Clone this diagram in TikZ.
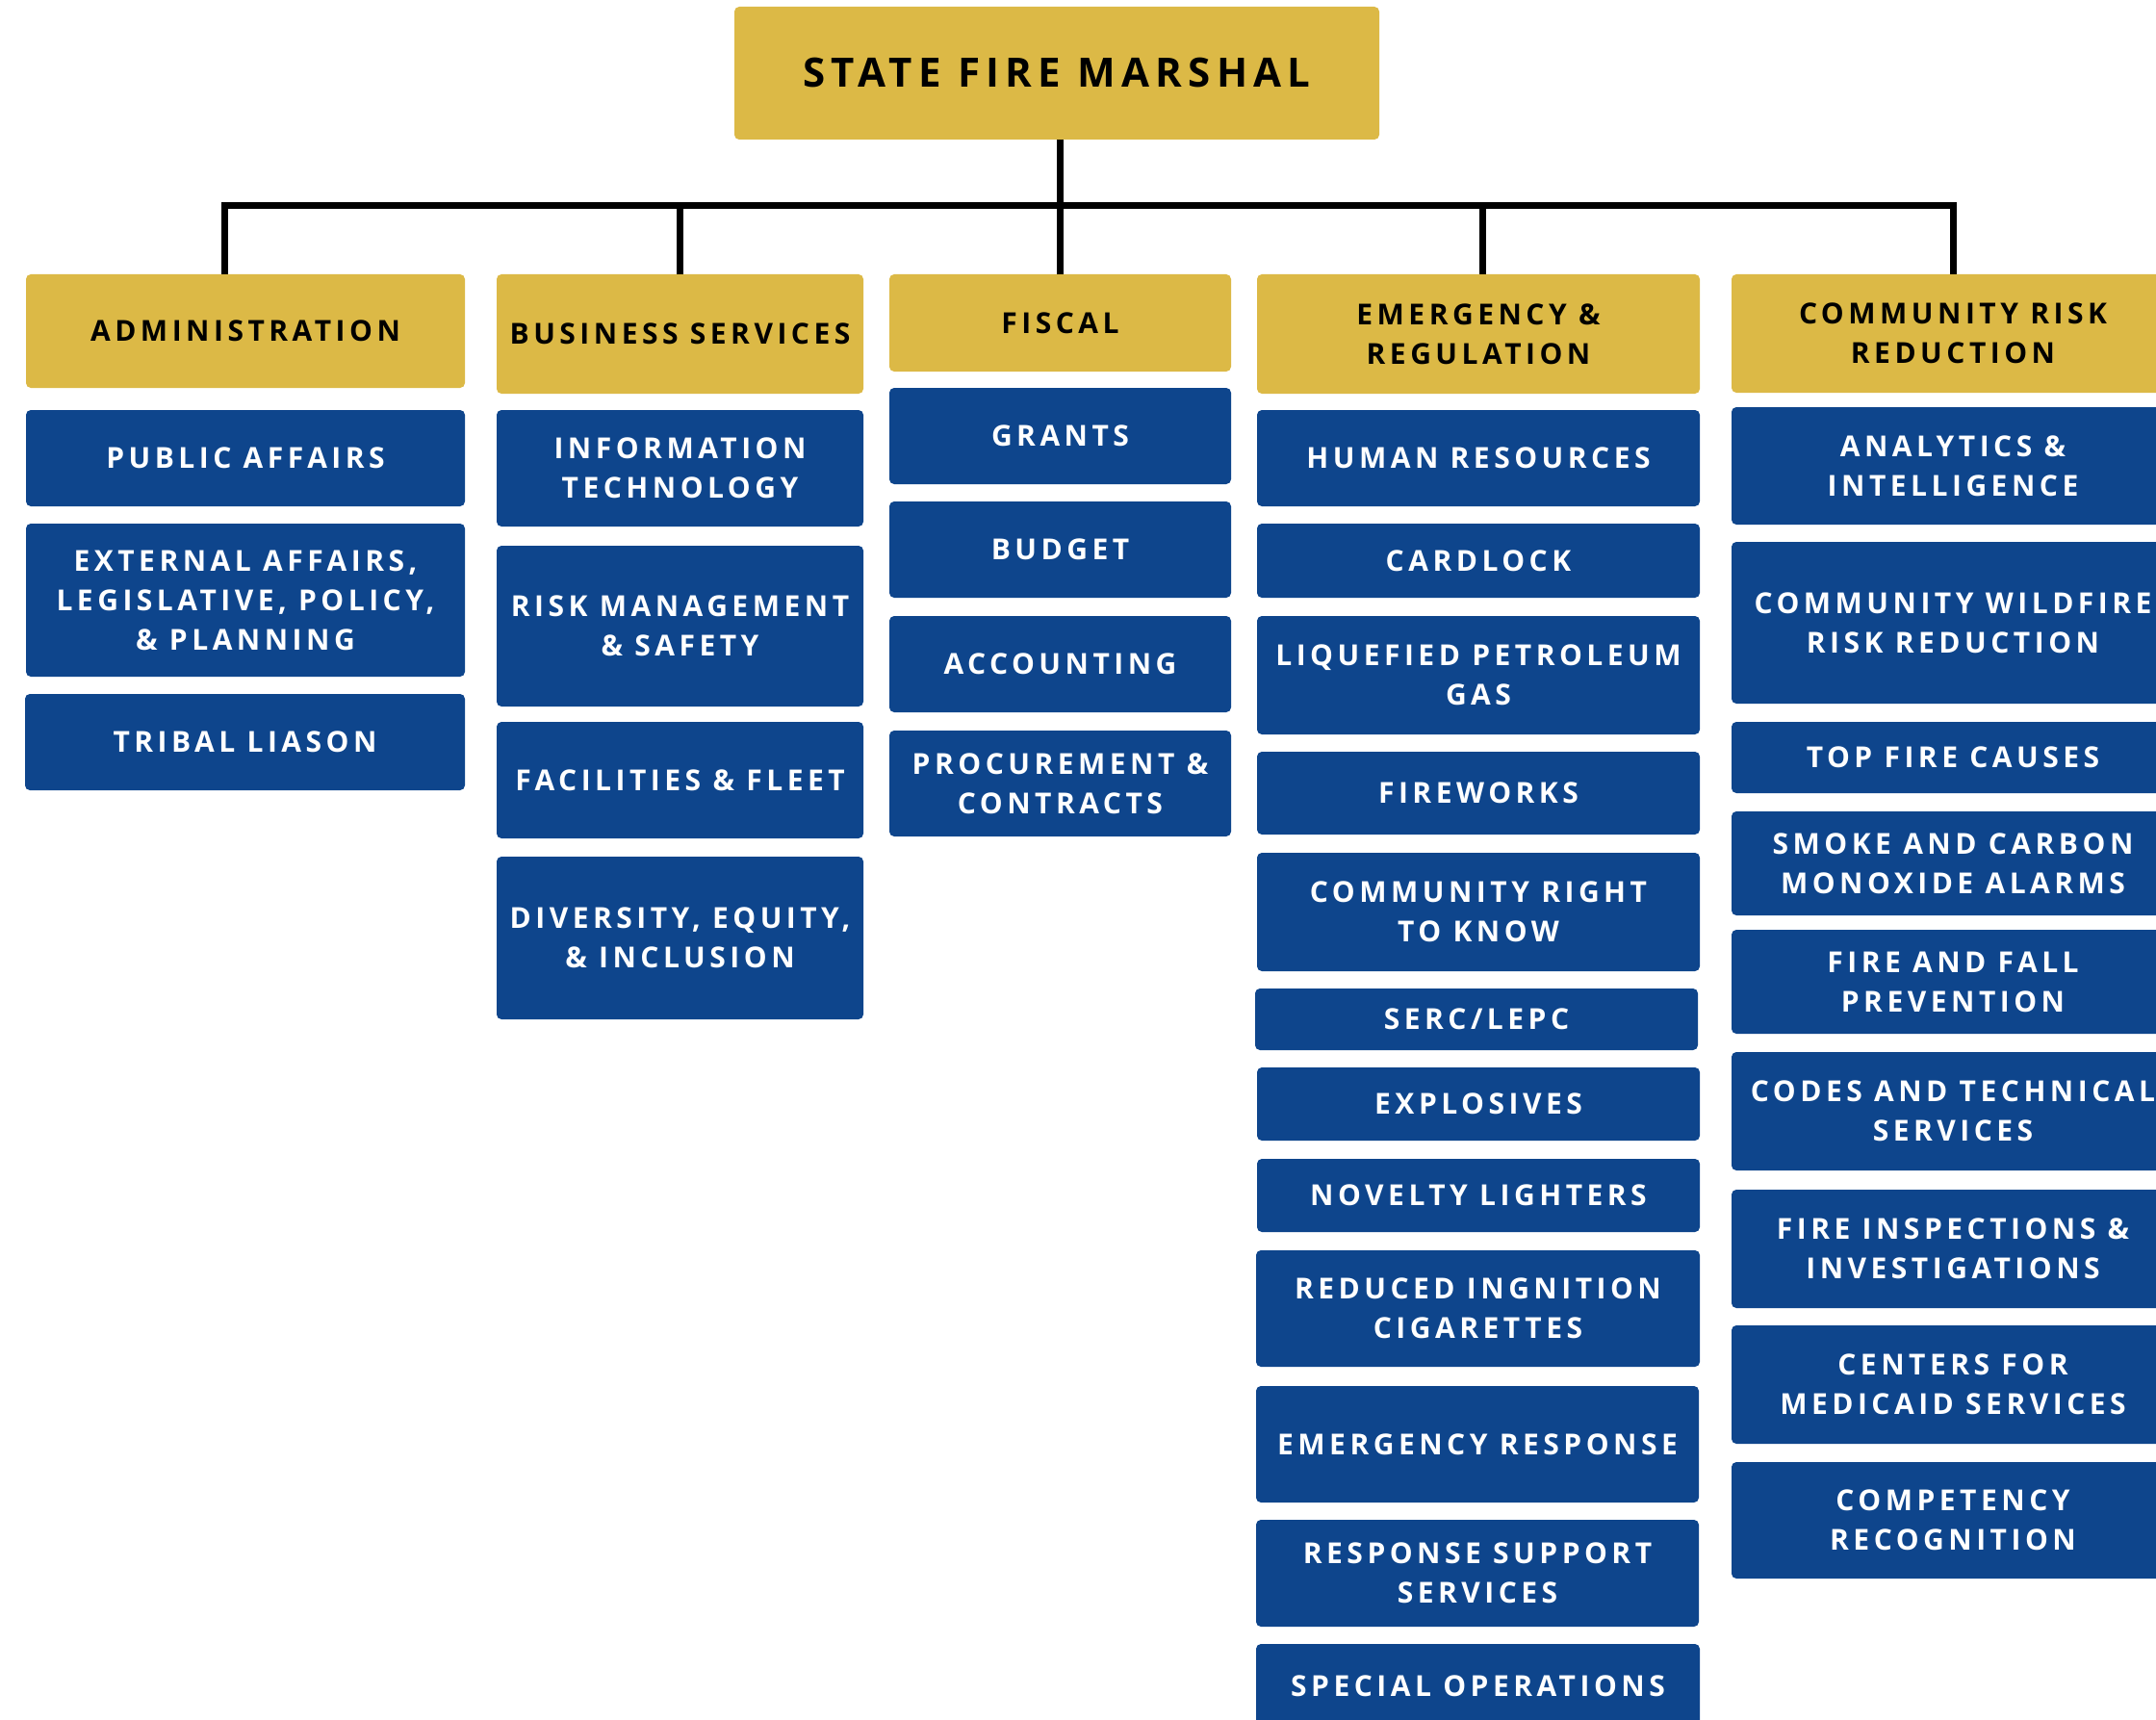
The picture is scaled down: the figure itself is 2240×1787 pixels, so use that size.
\documentclass[tikz,border=0pt]{standalone}
\usepackage{fontspec}
\setmainfont{Open Sans}
\newfontfamily\labfont{Open Sans}[LetterSpace=15]
\newfontfamily\ttlfont{Open Sans}[LetterSpace=15]
\definecolor{gold}{RGB}{220,185,70}
\definecolor{navy}{RGB}{14,69,140}
\newcommand\obox[7]{%
 \pgfmathsetmacro\obW{#5-#3}\pgfmathsetmacro\obH{#6-#4}%
 \pgfmathsetmacro\obX{(#3+#5)/2}\pgfmathsetmacro\obY{-(#4+#6)/2}%
 \node[#1, minimum width=\obW pt, minimum height=\obH pt] (#2) at (\obX pt,\obY pt) {#7};}
\tikzset{
 basebox/.style={rounded corners=5pt, inner sep=0pt, align=center},
 goldbox/.style={basebox, fill=gold, text=black, font=\labfont\bfseries\fontsize{30}{41}\selectfont},
 bluebox/.style={basebox, fill=navy, text=white, font=\labfont\bfseries\fontsize{30}{41}\selectfont},
 titlebox/.style={basebox, fill=gold, text=black, font=\ttlfont\bfseries\fontsize{42}{50}\selectfont},
 conn/.style={line width=7pt, black, line join=miter}
}
\begin{document}
\begin{tikzpicture}[x=1pt,y=1pt]
\useasboundingbox (0,0) rectangle (2240,-1787);
\clip (0,0) rectangle (2240,-1787);
\fill[white] (0,0) rectangle (2240,-1787);
% top
\obox{titlebox}{sfm}{763}{7}{1433}{145}{STATE FIRE MARSHAL}
% column 1
\obox{goldbox}{adm}{27}{285}{483}{403}{ADMINISTRATION}
\obox{bluebox}{pa}{27}{426}{483}{526}{PUBLIC AFFAIRS}
\obox{bluebox}{ea}{27}{544}{483}{703}{EXTERNAL AFFAIRS,\\LEGISLATIVE, POLICY,\\\& PLANNING}
\obox{bluebox}{tl}{26}{721}{483}{821}{TRIBAL LIASON}
% column 2
\obox{goldbox}{bs}{516}{285}{897}{409}{BUSINESS SERVICES}
\obox{bluebox}{it}{516}{426}{897}{547}{INFORMATION\\TECHNOLOGY}
\obox{bluebox}{rm}{516}{567}{897}{734}{RISK MANAGEMENT\\\& SAFETY}
\obox{bluebox}{ff}{516}{750}{897}{871}{FACILITIES \& FLEET}
\obox{bluebox}{dei}{516}{890}{897}{1059}{DIVERSITY, EQUITY,\\\& INCLUSION}
% column 3
\obox{goldbox}{fis}{924}{285}{1279}{386}{FISCAL}
\obox{bluebox}{gr}{924}{403}{1279}{503}{GRANTS}
\obox{bluebox}{bud}{924}{521}{1279}{621}{BUDGET}
\obox{bluebox}{acc}{924}{640}{1279}{740}{ACCOUNTING}
\obox{bluebox}{pro}{924}{759}{1279}{869}{PROCUREMENT \&\\CONTRACTS}
% column 4
\obox{goldbox}{er}{1306}{285}{1766}{409}{EMERGENCY \&\\REGULATION}
\obox{bluebox}{hr}{1306}{426}{1766}{526}{HUMAN RESOURCES}
\obox{bluebox}{cl}{1306}{544}{1766}{621}{CARDLOCK}
\obox{bluebox}{lpg}{1306}{640}{1766}{763}{LIQUEFIED PETROLEUM\\GAS}
\obox{bluebox}{fw}{1306}{781}{1766}{867}{FIREWORKS}
\obox{bluebox}{crk}{1306}{886}{1766}{1009}{COMMUNITY RIGHT\\TO KNOW}
\obox{bluebox}{serc}{1304}{1027}{1764}{1091}{SERC/LEPC}
\obox{bluebox}{exp}{1306}{1109}{1766}{1185}{EXPLOSIVES}
\obox{bluebox}{nov}{1306}{1204}{1766}{1280}{NOVELTY LIGHTERS}
\obox{bluebox}{ric}{1305}{1299}{1766}{1420}{REDUCED INGNITION\\CIGARETTES}
\obox{bluebox}{emr}{1305}{1440}{1765}{1561}{EMERGENCY RESPONSE}
\obox{bluebox}{rss}{1305}{1579}{1765}{1690}{RESPONSE SUPPORT\\SERVICES}
\obox{bluebox}{spo}{1305}{1708}{1766}{1795}{SPECIAL OPERATIONS}
% column 5
\obox{goldbox}{crr}{1799}{285}{2259}{408}{COMMUNITY RISK\\REDUCTION}
\obox{bluebox}{ai}{1799}{423}{2259}{545}{ANALYTICS \&\\INTELLIGENCE}
\obox{bluebox}{cwr}{1799}{563}{2259}{731}{COMMUNITY WILDFIRE\\RISK REDUCTION}
\obox{bluebox}{tfc}{1799}{750}{2259}{824}{TOP FIRE CAUSES}
\obox{bluebox}{sco}{1799}{843}{2259}{951}{SMOKE AND CARBON\\MONOXIDE ALARMS}
\obox{bluebox}{ffp}{1799}{966}{2259}{1074}{FIRE AND FALL\\PREVENTION}
\obox{bluebox}{cts}{1799}{1093}{2259}{1216}{CODES AND TECHNICAL\\SERVICES}
\obox{bluebox}{fii}{1799}{1236}{2259}{1359}{FIRE INSPECTIONS \&\\INVESTIGATIONS}
\obox{bluebox}{cms}{1799}{1377}{2259}{1500}{CENTERS FOR\\MEDICAID SERVICES}
\obox{bluebox}{cr}{1799}{1519}{2259}{1640}{COMPETENCY\\RECOGNITION}
% connectors
\coordinate (hl) at (233,-214);
\coordinate (hb) at (706,-214);
\coordinate (hm) at (1101,-214);
\coordinate (he) at (1540,-214);
\coordinate (hr) at (2029,-214);
\draw[conn] (hl |- adm.north) -- (hl) -- (hr) -- (hr |- crr.north);
\draw[conn] (sfm.south -| hm) -- (hm |- fis.north);
\draw[conn] (hb) -- (hb |- bs.north);
\draw[conn] (he) -- (he |- er.north);
\end{tikzpicture}
\end{document}
